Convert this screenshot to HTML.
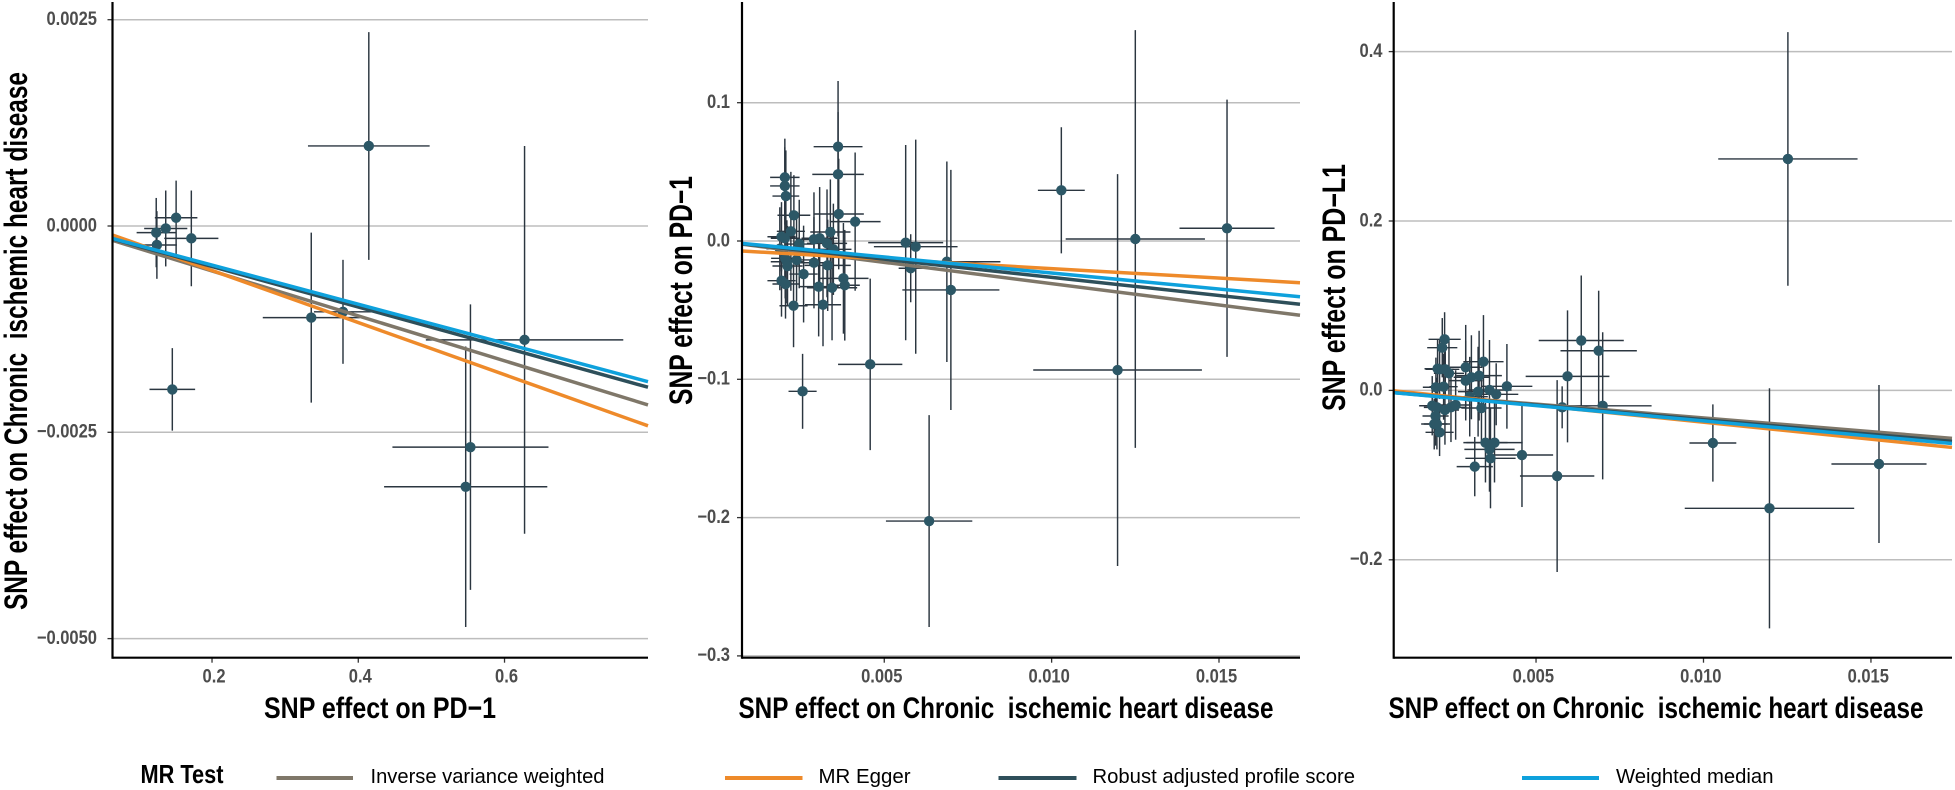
<!DOCTYPE html>
<html>
<head>
<meta charset="utf-8">
<title>MR scatter plots</title>
<style>
html,body{margin:0;padding:0;background:#fff;}
svg{display:block;font-family:"Liberation Sans",sans-serif;}
.title{font-weight:bold;font-size:30px;fill:#000;white-space:pre;}
.ytitle{font-size:32px;}
.tick{font-weight:bold;font-size:19px;fill:#4d4d4d;}
.leg{font-size:20px;fill:#000;}
</style>
</head>
<body>
<svg id="chart" xmlns="http://www.w3.org/2000/svg" width="1955" height="790" viewBox="0 0 1955 790">
  <g id="panel-a"></g>
  <g id="panel-b"></g>
  <g id="panel-c"></g>

  <text class="title" x="264" y="718" textLength="232" lengthAdjust="spacingAndGlyphs">SNP effect on PD−1</text>
  <text class="title" x="738.5" y="718" textLength="535" lengthAdjust="spacingAndGlyphs" xml:space="preserve">SNP effect on Chronic  ischemic heart disease</text>
  <text class="title" x="1388.5" y="718" textLength="535" lengthAdjust="spacingAndGlyphs" xml:space="preserve">SNP effect on Chronic  ischemic heart disease</text>

  <text class="title ytitle" transform="translate(27,610) rotate(-90)" textLength="538" lengthAdjust="spacingAndGlyphs" xml:space="preserve">SNP effect on Chronic  ischemic heart disease</text>
  <text class="title ytitle" transform="translate(692,405) rotate(-90)" textLength="229" lengthAdjust="spacingAndGlyphs">SNP effect on PD−1</text>
  <text class="title ytitle" transform="translate(1345,411) rotate(-90)" textLength="247" lengthAdjust="spacingAndGlyphs">SNP effect on PD−L1</text>

  <g>
    <text x="140.5" y="783" font-size="26" font-weight="bold" textLength="83" lengthAdjust="spacingAndGlyphs">MR Test</text>
    <line x1="276.5" y1="778" x2="353" y2="778" stroke="#7f7769" stroke-width="4"/>
    <text class="leg" x="370.5" y="783" textLength="234" lengthAdjust="spacingAndGlyphs">Inverse variance weighted</text>
    <line x1="725" y1="778" x2="802.5" y2="778" stroke="#ee8a2a" stroke-width="4"/>
    <text class="leg" x="818.5" y="783" textLength="92" lengthAdjust="spacingAndGlyphs">MR Egger</text>
    <line x1="998.5" y1="778" x2="1076.5" y2="778" stroke="#2e4f5a" stroke-width="4"/>
    <text class="leg" x="1092.5" y="783" textLength="262.5" lengthAdjust="spacingAndGlyphs">Robust adjusted profile score</text>
    <line x1="1522" y1="778" x2="1599" y2="778" stroke="#0ea1dc" stroke-width="4"/>
    <text class="leg" x="1616" y="783" textLength="157.5" lengthAdjust="spacingAndGlyphs">Weighted median</text>
  </g>
</svg>
<script>
// ---- Method order shared by all panels (drawn in this order) ----
var methodNames = ['inverse-variance-weighted','mr-egger','robust-adjusted-profile-score','weighted-median'];
var methodColors = ['#7f7769','#ee8a2a','#2e4f5a','#0ea1dc'];

// ---- Panel A: SNP effect on PD-1 vs chronic ischemic heart disease ----
var aX    = [0.6274,0.5534,0.5469,0.3357,0.3791,0.1457,0.4144,0.1509,0.1717,0.1367,0.1237,0.1246];
var aY    = [-0.00138,-0.00268,-0.00316,-0.00111,-0.00104,-0.00198,0.00097,0.0001,-0.00015,-0.00003,-0.00008,-0.00023];
var aXErr = [0.135,0.1067,0.1116,0.0663,0.0397,0.0312,0.0832,0.0291,0.037,0.0295,0.0268,0.0273];
var aYErr = [0.00235,0.00173,0.0017,0.00103,0.00063,0.0005,0.00138,0.00045,0.00058,0.00046,0.00042,0.00041];
var aSlopes = [-0.002723,-0.003158,-0.002454,-0.002369];
var aIntercepts = [0,0.0000928,0,0];
var aXTicks = [0.2,0.4,0.6];
var aXTickLabels = ['0.2','0.4','0.6'];
var aYTicks = [0.0025,0,-0.0025,-0.005];
var aYTickLabels = ['0.0025','0.0000','−0.0025','−0.0050'];

// ---- Panel B: heart disease vs PD-1 ----
var bX    = [0.00362,0.00362,0.00203,0.00203,0.00206,0.0023,0.00364,0.00413,0.00339,0.0029,0.00307,0.00329,0.00221,0.00193,0.00203,0.00246,0.00348,0.00564,0.00594,0.00579,0.00699,0.00687,0.0029,0.00331,0.00238,0.00209,0.00204,0.00211,0.00259,0.00193,0.00205,0.00304,0.00344,0.00378,0.00382,0.00229,0.00317,0.00188,0.01029,0.0125,0.01524,0.01197,0.00634,0.00458,0.00256];
var bY    = [0.0682,0.0482,0.046,0.0398,0.0325,0.0186,0.0195,0.014,0.0065,0.0012,0.002,-0.0017,0.007,0.0031,0.002,-0.0022,-0.006,-0.0012,-0.0041,-0.0197,-0.0354,-0.015,-0.0157,-0.0176,-0.0137,-0.015,-0.0125,-0.0181,-0.0239,-0.0287,-0.0311,-0.033,-0.0338,-0.027,-0.032,-0.0468,-0.0461,-0.0056,0.03666,0.00145,0.0092,-0.0933,-0.2025,-0.0892,-0.1087];
var bXErr = [0.00073,0.00077,0.00044,0.00044,0.0004,0.00049,0.00075,0.00076,0.0006,0.00054,0.00054,0.0006,0.00042,0.00042,0.00042,0.00042,0.00054,0.00112,0.00125,0.00036,0.00145,0.0016,0.0005,0.00069,0.00048,0.00048,0.00042,0.00045,0.00042,0.00042,0.00039,0.0006,0.00075,0.00075,0.00045,0.00042,0.00054,0.0004,0.0007,0.00208,0.00142,0.00252,0.00129,0.00096,0.00042];
var bYErr = [0.0475,0.045,0.028,0.028,0.033,0.029,0.04,0.05,0.038,0.034,0.037,0.039,0.043,0.025,0.029,0.032,0.033,0.0706,0.0774,0.0246,0.0868,0.0725,0.033,0.033,0.03,0.03,0.029,0.029,0.035,0.026,0.025,0.036,0.038,0.04,0.04,0.03,0.03,0.03,0.0456,0.151,0.093,0.1417,0.0766,0.062,0.0271];
var bSlopes = [-3.083,-1.375,-2.627,-2.313];
var bIntercepts = [0,-0.0062,0,0];
var bXTicks = [0.005,0.01,0.015];
var bXTickLabels = ['0.005','0.010','0.015'];
var bYTicks = [0.1,0,-0.1,-0.2,-0.3];
var bYTickLabels = ['0.1','0.0','−0.1','−0.2','−0.3'];

// ---- Panel C: heart disease vs PD-L1 ----
var cX    = [0.01252,0.01028,0.01197,0.01524,0.00635,0.00687,0.00699,0.00594,0.00578,0.00563,0.00458,0.00413,0.00343,0.0029,0.00307,0.0029,0.0033,0.00327,0.00361,0.00381,0.00302,0.00337,0.00349,0.00376,0.00361,0.00364,0.00317,0.00227,0.0022,0.00206,0.00212,0.00229,0.0024,0.00201,0.00224,0.0019,0.00204,0.00228,0.00246,0.0026,0.002,0.00196,0.00204,0.00212];
var cY    = [0.2733,-0.0621,-0.1392,-0.0869,0.0589,0.0468,-0.0182,0.0166,-0.02,-0.1011,-0.0763,0.0048,0.0339,0.0273,0.0155,0.0115,0.0174,-0.0015,0.0005,-0.0046,-0.0074,-0.0208,-0.0617,-0.0617,-0.0696,-0.0802,-0.09,0.0603,0.0504,0.0256,0.0249,0.0249,0.0202,0.0037,0.0044,-0.0181,-0.02,-0.0231,-0.02,-0.0172,-0.0302,-0.0397,-0.0397,-0.0495];
var cXErr = [0.00208,0.0007,0.00253,0.00142,0.00127,0.00114,0.00146,0.00125,0.00036,0.00111,0.00093,0.00076,0.0006,0.0005,0.00053,0.0005,0.00068,0.0006,0.00066,0.00066,0.00054,0.0006,0.00066,0.00084,0.00075,0.00075,0.00054,0.00048,0.00045,0.00039,0.00042,0.00042,0.00045,0.00039,0.00042,0.00039,0.00039,0.00042,0.00045,0.00045,0.00039,0.00039,0.00039,0.00042];
var cYErr = [0.1497,0.0456,0.1417,0.0933,0.0767,0.0709,0.0869,0.0779,0.0248,0.1133,0.0614,0.05,0.055,0.05,0.0496,0.047,0.053,0.053,0.059,0.0366,0.047,0.041,0.047,0.047,0.05,0.059,0.035,0.032,0.035,0.035,0.035,0.035,0.041,0.035,0.039,0.035,0.035,0.041,0.041,0.041,0.035,0.03,0.03,0.028];
var cSlopes = [-3.248,-4.013,-3.458,-3.596];
var cIntercepts = [0,0.00256,0,0];
var cXTicks = [0.005,0.01,0.015];
var cXTickLabels = ['0.005','0.010','0.015'];
var cYTicks = [0.4,0.2,0,-0.2];
var cYTickLabels = ['0.4','0.2','0.0','−0.2'];

var NS = 'http://www.w3.org/2000/svg';

function linear(d0, d1, r0, r1) {
  return function (v) { return r0 + (v - d0) * (r1 - r0) / (d1 - d0); };
}

function mk(parent, tag, attrs) {
  var el = document.createElementNS(NS, tag);
  for (var k in attrs) el.setAttribute(k, attrs[k]);
  parent.appendChild(el);
  return el;
}

function drawPanel(cfg) {
  var g = document.getElementById(cfg.id);
  var x = linear(cfg.xDomain[0], cfg.xDomain[1], cfg.left, cfg.right);
  var y = linear(cfg.yDomain[0], cfg.yDomain[1], cfg.yRange[0], cfg.yRange[1]);
  var i, el;

  // gridlines + y ticks
  for (i = 0; i < cfg.yTicks.length; i++) {
    var py = y(cfg.yTicks[i]);
    el = mk(g, 'line', {x1: cfg.left, x2: cfg.right, y1: py, y2: py, stroke: '#bdbdbd', 'stroke-width': 1.5});
    
    
    el = mk(g, 'line', {x1: cfg.left - 5, x2: cfg.left, y1: py, y2: py, stroke: '#333', 'stroke-width': 1.3});
    
    
    el = mk(g, 'text', {'class': 'tick', 'text-anchor': 'end', transform: 'translate(' + cfg.yLabelRight + ',' + (py + 5.3) + ') scale(0.87,1)'});
    el.textContent = cfg.yLabels[i];
    
    
  }

  // x ticks
  for (i = 0; i < cfg.xTicks.length; i++) {
    var px = x(cfg.xTicks[i]);
    el = mk(g, 'line', {x1: px, x2: px, y1: cfg.bottom, y2: cfg.bottom + 5, stroke: '#333', 'stroke-width': 1.3});
    
    
    el = mk(g, 'text', {'class': 'tick', 'text-anchor': 'middle', transform: 'translate(' + (px + cfg.xLabelShift) + ',682.7) scale(0.87,1)'});
    el.textContent = cfg.xLabels[i];
    
    
  }

  // error bars
  for (i = 0; i < cfg.xs.length; i++) {
    el = mk(g, 'line', {x1: x(cfg.xs[i] - cfg.xErr[i]), x2: x(cfg.xs[i] + cfg.xErr[i]), y1: y(cfg.ys[i]), y2: y(cfg.ys[i]), stroke: '#2b3640', 'stroke-width': 1.45});
    
    
    el = mk(g, 'line', {x1: x(cfg.xs[i]), x2: x(cfg.xs[i]), y1: y(cfg.ys[i] + cfg.yErr[i]), y2: y(cfg.ys[i] - cfg.yErr[i]), stroke: '#2b3640', 'stroke-width': 1.45});
    
    
  }

  // points
  for (i = 0; i < cfg.xs.length; i++) {
    el = mk(g, 'circle', {cx: x(cfg.xs[i]), cy: y(cfg.ys[i]), r: 5.2, fill: '#2c5766'});
    
    
  }

  // regression lines
  for (i = 0; i < cfg.slopes.length; i++) {
    var d0 = cfg.xDomain0, d1 = cfg.xDomain1;
    el = mk(g, 'line', {
      x1: x(d0), y1: y(cfg.slopes[i] * d0 + cfg.intercepts[i]),
      x2: x(d1), y2: y(cfg.slopes[i] * d1 + cfg.intercepts[i]),
      stroke: methodColors[i], 'stroke-width': 3.5
    });
    
    
  }

  // axis lines
  el = mk(g, 'line', {x1: cfg.left, x2: cfg.left, y1: 2, y2: cfg.bottom + 1, stroke: '#000', 'stroke-width': 2.2});
  
  
  el = mk(g, 'line', {x1: cfg.left, x2: cfg.right, y1: cfg.bottom, y2: cfg.bottom, stroke: '#000', 'stroke-width': 2.2});
  
  
}

drawPanel({
  id: 'panel-a', left: 112.5, right: 648, bottom: 657.7,
  xDomain: [0.0639, 0.7962], xDomain0: 0.0639, xDomain1: 0.7962,
  yDomain: [0, 0.0025], yRange: [226, 19.7],
  xs: aX, ys: aY, xErr: aXErr, yErr: aYErr,
  slopes: aSlopes, intercepts: aIntercepts,
  xTicks: aXTicks, xLabels: aXTickLabels, xLabelShift: 2,
  yTicks: aYTicks, yLabels: aYTickLabels, yLabelRight: 97
});
drawPanel({
  id: 'panel-b', left: 742, right: 1300, bottom: 657.7,
  xDomain: [0.00075, 0.01742], xDomain0: 0.00075, xDomain1: 0.01742,
  yDomain: [0, 0.1], yRange: [241, 102.7],
  xs: bX, ys: bY, xErr: bXErr, yErr: bYErr,
  slopes: bSlopes, intercepts: bIntercepts,
  xTicks: bXTicks, xLabels: bXTickLabels, xLabelShift: -2.5,
  yTicks: bYTicks, yLabels: bYTickLabels, yLabelRight: 730
});
drawPanel({
  id: 'panel-c', left: 1393.7, right: 1952, bottom: 657.7,
  xDomain: [0.00075, 0.01742], xDomain0: 0.00075, xDomain1: 0.01742,
  yDomain: [0, 0.2], yRange: [390.4, 221],
  xs: cX, ys: cY, xErr: cXErr, yErr: cYErr,
  slopes: cSlopes, intercepts: cIntercepts,
  xTicks: cXTicks, xLabels: cXTickLabels, xLabelShift: -2.7,
  yTicks: cYTicks, yLabels: cYTickLabels, yLabelRight: 1382.5
});
</script>
</body>
</html>
